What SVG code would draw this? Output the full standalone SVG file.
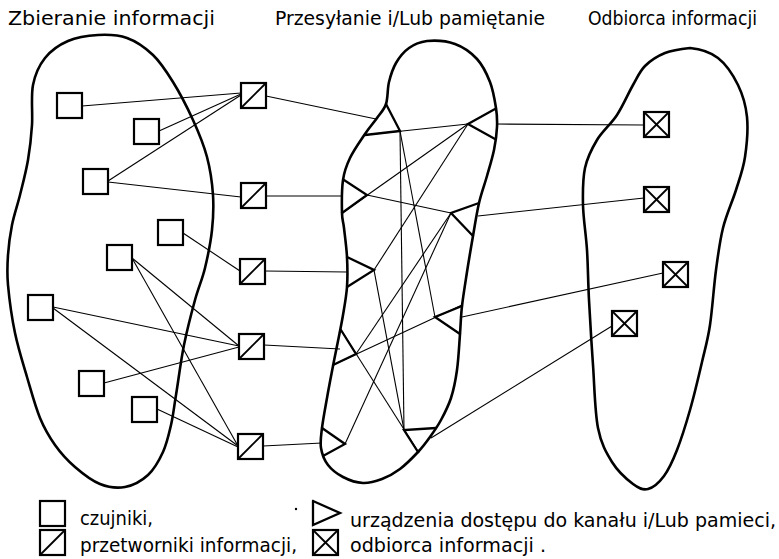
<svg xmlns="http://www.w3.org/2000/svg" xmlns:xlink="http://www.w3.org/1999/xlink" width="779" height="559" viewBox="0 0 779 559">
<style>
.blob{fill:none;stroke:#000;stroke-width:2.6;stroke-linejoin:round}
.box{fill:#fff;stroke:#000;stroke-width:2.2}
.mark{stroke:#000;stroke-width:1.8;fill:none}
.link{stroke:#000;stroke-width:1.1;fill:none}
.tri{stroke:#000;stroke-width:2.3;fill:none;stroke-linejoin:miter;stroke-linecap:round}
text{font-family:"DejaVu Sans","Liberation Sans",sans-serif;fill:#000;font-size:19px}
</style>
<defs>
<g id="sensor"><rect class="box" x="0" y="0" width="25" height="25"/></g>
<g id="transducer"><rect class="box" x="0" y="0" width="25" height="25"/><line class="mark" x1="0" y1="25" x2="25" y2="0"/></g>
<g id="receiver"><rect class="box" x="0" y="0" width="25" height="25"/><line class="mark" x1="0" y1="0" x2="25" y2="25"/><line class="mark" x1="0" y1="25" x2="25" y2="0"/></g>
</defs>
<rect width="779" height="559" fill="#fff"/>

<g id="titles">
<text x="8" y="25" textLength="207" lengthAdjust="spacingAndGlyphs">Zbieranie informacji</text>
<text x="275" y="25" textLength="270" lengthAdjust="spacingAndGlyphs">Przesyłanie i/Lub pamiętanie</text>
<text x="588" y="25" textLength="169" lengthAdjust="spacingAndGlyphs">Odbiorca informacji</text>
</g>

<g id="blob-collect"><path class="blob" d="M 98 35 C 107.8 34.5, 117.8 34.7, 127 38 S 145.3 47.7, 153 55 S 166.3 71.2, 173 82 S 187.3 107.5, 193 120 S 203.7 144.5, 207 157 S 212.2 182.8, 213 195 S 213.3 217.8, 212 230 S 207.8 256.3, 205 268 S 198.5 287.2, 195 300 S 187.2 329.2, 184 345 S 178.2 381.7, 176 395 S 173.2 415.5, 171 425 S 166.8 443.7, 163 452 S 154.3 469.2, 148 475 S 133 485.5, 125 487 S 108.3 487.3, 100 484 S 82.5 473.5, 75 467 S 60.8 453.2, 55 445 S 44.7 429.3, 40 418 S 31.2 391.2, 27 377 S 18.2 348.3, 15 333 S 9.2 298, 8 285 S 7.3 265, 8 255 S 10 235, 12 225 S 17.3 205.8, 20 195 S 26 171.7, 28 160 S 31.2 137.5, 32 125 S 30.8 96.2, 33 85 S 39.2 65.3, 45 58 S 59.2 44.8, 68 41 S 89.2 35.5, 98 35 Z"/></g>

<g id="blob-transmit"><path class="blob" d="M 427 41 C 434.7 40.3, 446.7 41, 455 44 S 471.2 52.7, 477 59 S 486.8 73.8, 490 82 S 494.8 100.5, 496 108 S 497.3 120, 497 127 S 495.7 141.8, 494 150 S 489.5 167.2, 487 176 S 481.3 193, 479 203 S 475 224.5, 473 236 S 468.8 260.3, 467 272 S 463.2 295.7, 462 306 S 460.8 323.3, 460 334 S 458.5 359.3, 457 370 S 453.7 389.7, 451 398 S 444.5 413.5, 441 420 S 433.8 431.7, 430 437 S 423 446.7, 418 452 S 406 464.5, 400 469 S 388.2 476.7, 382 479 S 369.5 483.3, 363 483 S 348.8 480, 343 477 S 331.7 469.8, 328 465 S 322 454.2, 321 448 S 321 436.3, 322 428 S 325.2 408.3, 327 398 S 331.2 375.5, 333 366 S 336.3 349.5, 338 341 S 341.5 324, 343 315 S 346.3 296.7, 347 287 S 347.5 266.8, 347 257 S 344.8 235.3, 344 228 S 342.2 221, 342 213 S 341.7 189.2, 343 180 S 346.3 165.7, 350 158 S 360.5 140.7, 365 134 S 373.5 123, 377 118 S 384 110, 386 104 S 387.3 88.8, 389 82 S 392.7 68.7, 396 63 S 403.8 51.7, 409 48 S 421.8 41.7, 427 41 Z"/></g>

<g id="blob-receive"><path class="blob" d="M 690 48 C 698.8 48.8, 710 51.8, 718 58 S 733.2 75.2, 738 85 S 745.8 105, 747 117 S 746.8 144.8, 745 157 S 739.7 178.2, 736 190 S 726.3 214.7, 723 228 S 718.2 253.8, 716 270 S 712.3 309.7, 710 325 S 705.3 347.8, 702 362 S 694.2 395.3, 690 410 S 681.3 439, 677 450 S 668.8 469.5, 664 476 S 653.2 487.7, 648 489 S 639 488.5, 633 484 S 617.8 471.3, 612 462 S 601.2 444.2, 598 428 S 594.5 386.3, 593 365 S 590 319.2, 589 300 S 588 265.8, 587 250 S 583.3 218.7, 583 205 S 582.7 178.8, 585 168 S 591.7 148.8, 597 140 S 611 124.2, 617 115 S 628.3 93.2, 633 85 S 639.7 71.3, 645 66 S 657.5 56, 665 53 S 682.5 48.8, 690 48 Z"/></g>

<g id="connectors">
<!-- sensors to transducers -->
<line class="link" x1="82" y1="106" x2="241" y2="93"/>
<line class="link" x1="159" y1="131" x2="241" y2="94"/>
<line class="link" x1="108" y1="181" x2="241" y2="95"/>
<line class="link" x1="108" y1="182" x2="241" y2="197"/>
<line class="link" x1="183" y1="233" x2="240" y2="271"/>
<line class="link" x1="132" y1="258" x2="239" y2="346"/>
<line class="link" x1="132" y1="258" x2="238" y2="446"/>
<line class="link" x1="53" y1="307" x2="239" y2="346"/>
<line class="link" x1="53" y1="308" x2="238" y2="446"/>
<line class="link" x1="104" y1="383" x2="239" y2="347"/>
<line class="link" x1="157" y1="409" x2="238" y2="447"/>
<!-- transducers to access devices -->
<line class="link" x1="266" y1="96" x2="376" y2="119"/>
<line class="link" x1="266" y1="196" x2="343" y2="196"/>
<line class="link" x1="265" y1="271" x2="347" y2="272"/>
<line class="link" x1="264" y1="345" x2="340" y2="349"/>
<line class="link" x1="263" y1="446" x2="322" y2="443"/>
<!-- inside the channel / memory -->
<line class="link" x1="365" y1="135" x2="468" y2="124"/>
<line class="link" x1="400" y1="131" x2="404" y2="430"/>
<line class="link" x1="400" y1="131" x2="435" y2="317"/>
<line class="link" x1="342" y1="213" x2="468" y2="124"/>
<line class="link" x1="468" y1="124" x2="374" y2="270"/>
<line class="link" x1="367" y1="195" x2="451" y2="213"/>
<line class="link" x1="374" y1="270" x2="404" y2="430"/>
<line class="link" x1="451" y1="213" x2="356" y2="354"/>
<line class="link" x1="451" y1="213" x2="345" y2="444"/>
<line class="link" x1="333" y1="365" x2="462" y2="305"/>
<line class="link" x1="341" y1="330" x2="419" y2="453"/>
<!-- access devices to receivers -->
<line class="link" x1="496" y1="124" x2="644" y2="125"/>
<line class="link" x1="478" y1="216" x2="644" y2="198"/>
<line class="link" x1="462" y1="317" x2="663" y2="273"/>
<line class="link" x1="431" y1="438" x2="612" y2="326"/>
</g>

<g id="access-A"><polyline class="tri" points="386,104 400,131 365,135"/></g>
<g id="access-B"><polyline class="tri" points="495,109 468,124 495,139"/></g>
<g id="access-C"><polyline class="tri" points="344,180 367,195 342,213"/></g>
<g id="access-D"><polyline class="tri" points="347,257 374,270 347,287"/></g>
<g id="access-E"><polyline class="tri" points="341,330 356,354 333,365"/></g>
<g id="access-F"><polyline class="tri" points="322,428 345,444 323,456"/></g>
<g id="access-G"><polyline class="tri" points="479,203 451,213 473,236"/></g>
<g id="access-H"><polyline class="tri" points="462,306 435,317 460,334"/></g>
<g id="access-I"><polyline class="tri" points="436,428 404,430 418,452"/></g>

<g id="sensor-1"><use xlink:href="#sensor" x="57" y="93"/></g>
<g id="sensor-2"><use xlink:href="#sensor" x="134" y="119"/></g>
<g id="sensor-3"><use xlink:href="#sensor" x="83" y="169"/></g>
<g id="sensor-4"><use xlink:href="#sensor" x="158" y="220"/></g>
<g id="sensor-5"><use xlink:href="#sensor" x="107" y="245"/></g>
<g id="sensor-6"><use xlink:href="#sensor" x="28" y="295"/></g>
<g id="sensor-7"><use xlink:href="#sensor" x="79" y="371"/></g>
<g id="sensor-8"><use xlink:href="#sensor" x="132" y="397"/></g>

<g id="transducer-1"><use xlink:href="#transducer" x="241" y="83"/></g>
<g id="transducer-2"><use xlink:href="#transducer" x="241" y="183"/></g>
<g id="transducer-3"><use xlink:href="#transducer" x="240" y="259"/></g>
<g id="transducer-4"><use xlink:href="#transducer" x="239" y="334"/></g>
<g id="transducer-5"><use xlink:href="#transducer" x="238" y="434"/></g>

<g id="receiver-1"><use xlink:href="#receiver" x="644" y="112"/></g>
<g id="receiver-2"><use xlink:href="#receiver" x="644" y="187"/></g>
<g id="receiver-3"><use xlink:href="#receiver" x="663" y="262"/></g>
<g id="receiver-4"><use xlink:href="#receiver" x="612" y="311"/></g>

<g id="legend">
<use xlink:href="#sensor" x="40" y="501"/>
<text x="80" y="525" textLength="73" lengthAdjust="spacingAndGlyphs">czujniki,</text>
<use xlink:href="#transducer" x="40" y="530"/>
<text x="80" y="552" textLength="217" lengthAdjust="spacingAndGlyphs">przetworniki  informacji,</text>
<circle cx="296" cy="509" r="1.2" fill="#000"/>
<polyline class="tri" points="313,501 340,513 313,525 313,501"/>
<text x="350" y="527" textLength="426" lengthAdjust="spacingAndGlyphs">urządzenia dostępu do kanału i/Lub pamieci,</text>
<use xlink:href="#receiver" x="313" y="530"/>
<text x="350" y="552" textLength="196" lengthAdjust="spacingAndGlyphs">odbiorca informacji .</text>
</g>
</svg>
